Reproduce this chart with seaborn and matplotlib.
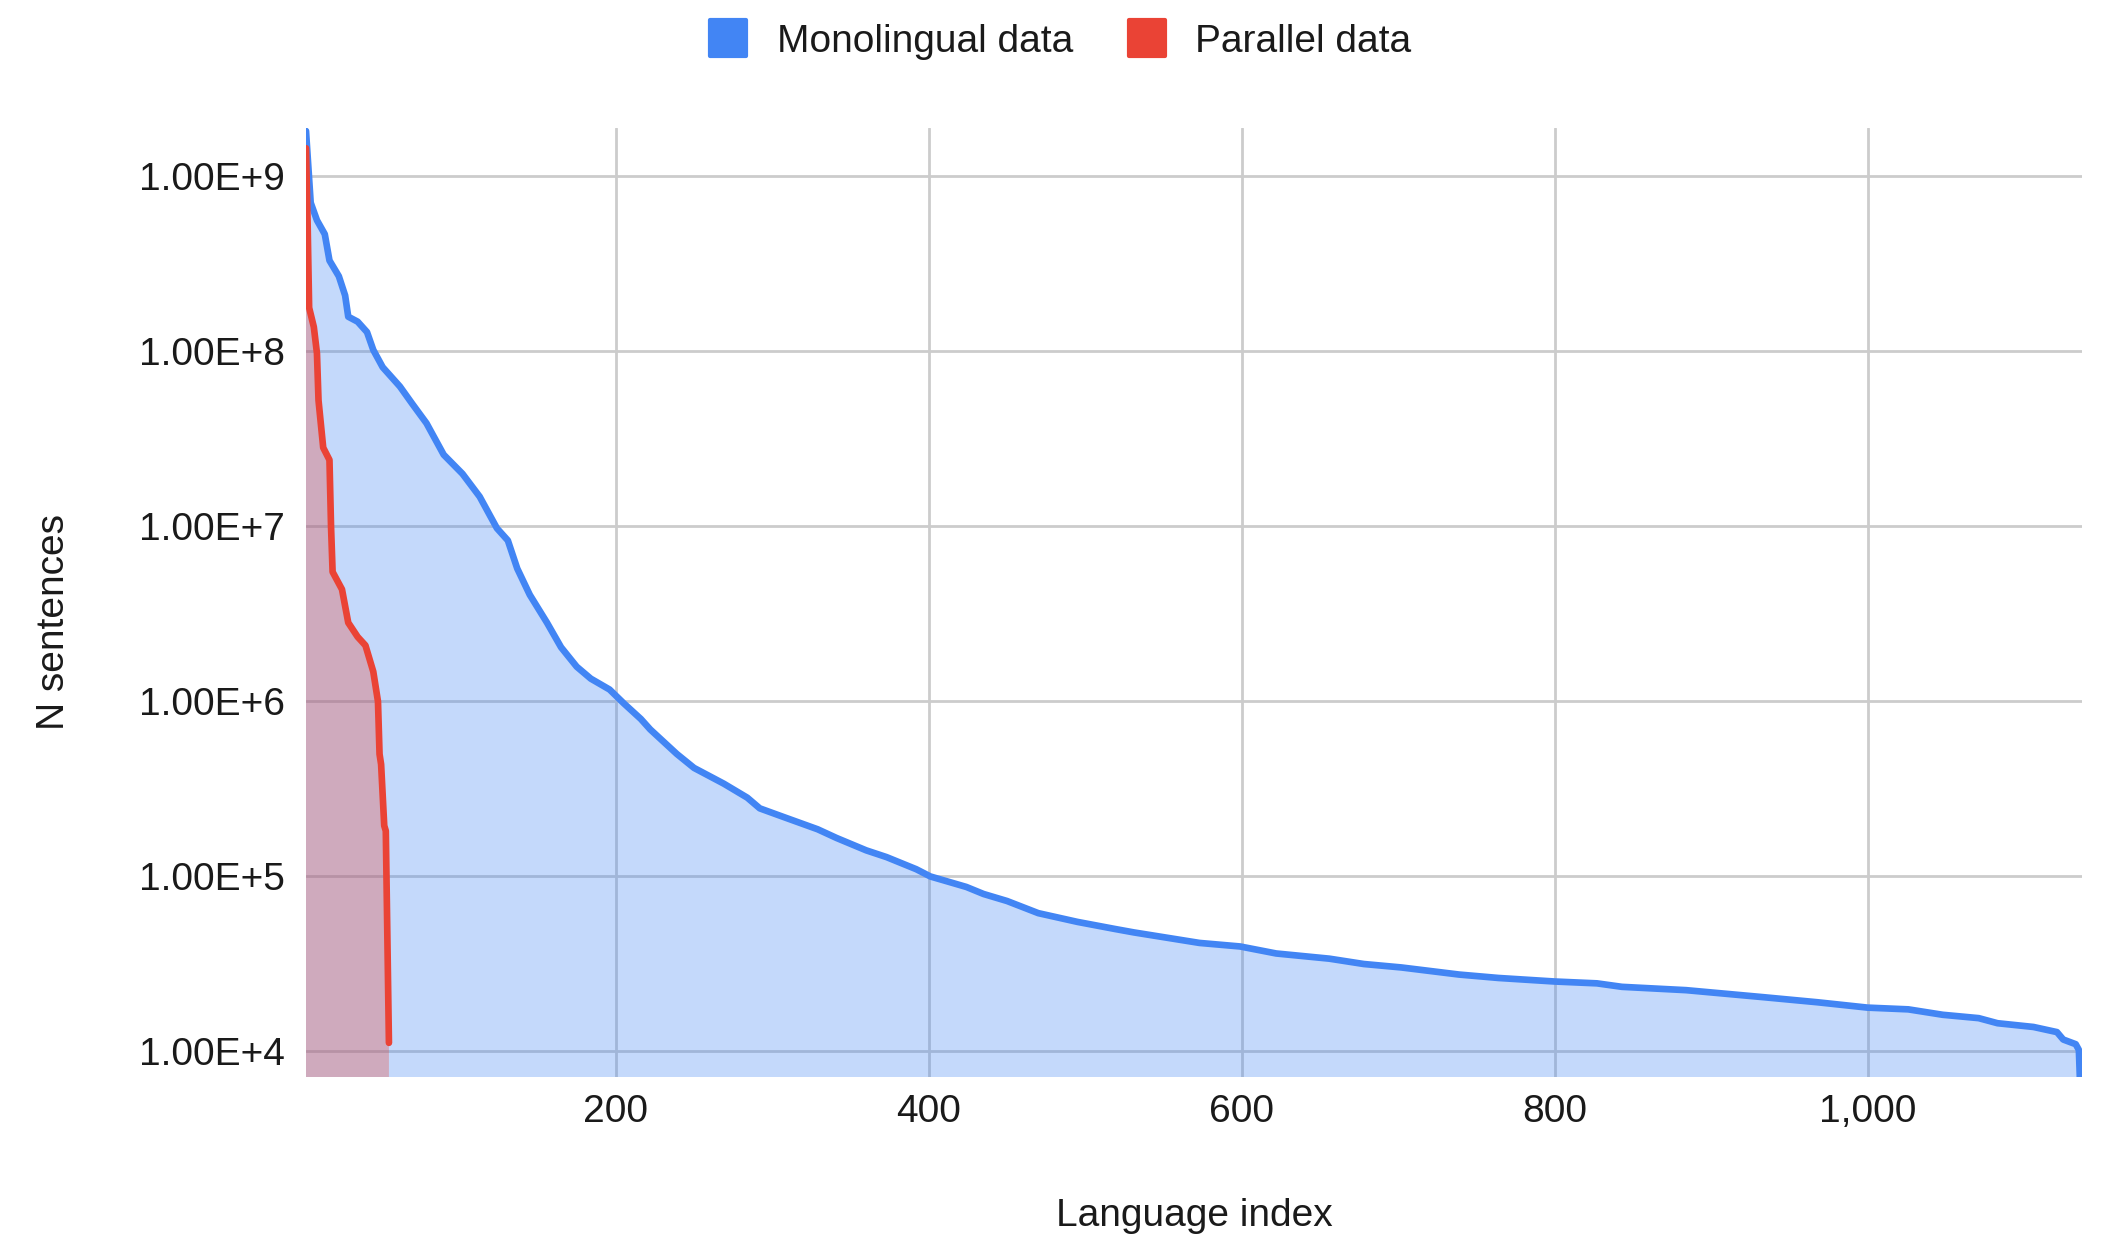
import matplotlib
matplotlib.use("Agg")
import matplotlib.pyplot as plt
from matplotlib.lines import Line2D
from matplotlib.markers import MarkerStyle
from matplotlib.ticker import FixedLocator, FixedFormatter, NullLocator
import seaborn as sns
import pandas as pd

# ---- data ----
series_names = ["Monolingual data", "Parallel data"]

mono_index = [2, 5, 9, 14, 17, 23, 27, 29, 35, 41, 45, 51, 62, 70, 79, 90, 102, 113,
              124, 131, 137, 145, 156, 165, 175, 184, 196, 205, 216, 222, 239, 250,
              269, 284, 292, 307, 329, 341, 360, 373, 392, 401, 424, 435, 450, 470,
              495, 519, 531, 573, 599, 622, 656, 678, 702, 739, 764, 800, 827, 843,
              884, 934, 968, 1000, 1026, 1048, 1071, 1083, 1106, 1121, 1125, 1133,
              1135, 1137]
mono_sentences = [1.82e9, 7.08e8, 5.62e8, 4.68e8, 3.31e8, 2.69e8, 2.09e8, 1.58e8,
                  1.48e8, 1.29e8, 1.02e8, 8.13e7, 6.31e7, 5.01e7, 3.89e7, 2.57e7,
                  2.0e7, 1.48e7, 9.77e6, 8.32e6, 5.75e6, 4.07e6, 2.82e6, 2.04e6,
                  1.58e6, 1.35e6, 1.17e6, 9.77e5, 7.94e5, 6.92e5, 5.01e5, 4.17e5,
                  3.39e5, 2.82e5, 2.45e5, 2.19e5, 1.86e5, 1.66e5, 1.41e5, 1.29e5,
                  1.10e5, 1.0e5, 8.71e4, 7.94e4, 7.24e4, 6.17e4, 5.50e4, 5.01e4,
                  4.79e4, 4.17e4, 3.98e4, 3.63e4, 3.39e4, 3.16e4, 3.02e4, 2.75e4,
                  2.63e4, 2.51e4, 2.45e4, 2.34e4, 2.24e4, 2.04e4, 1.91e4, 1.78e4,
                  1.74e4, 1.62e4, 1.55e4, 1.45e4, 1.38e4, 1.29e4, 1.17e4, 1.10e4,
                  1.02e4, 3.2e3]

para_index = [2, 3, 4, 7, 9, 10, 13, 17, 18, 19, 25, 29, 35, 40, 45, 48, 49, 50,
              52, 53, 55]
para_sentences = [1.45e9, 5.62e8, 1.78e8, 1.38e8, 9.77e7, 5.25e7, 2.82e7, 2.40e7,
                  1.0e7, 5.5e6, 4.37e6, 2.82e6, 2.34e6, 2.09e6, 1.48e6, 1.0e6,
                  5.0e5, 4.37e5, 1.95e5, 1.82e5, 1.12e4]

x_ticks = [200, 400, 600, 800, 1000]
x_tick_labels = ["200", "400", "600", "800", "1,000"]
y_ticks = [1e4, 1e5, 1e6, 1e7, 1e8, 1e9]
y_tick_labels = ["1.00E+4", "1.00E+5", "1.00E+6", "1.00E+7", "1.00E+8", "1.00E+9"]

x_label = "Language index"
y_label = "N sentences"

BLUE = "#4285F4"
RED = "#EA4335"
TEXT = "#1a1a1a"

# ---- style ----
sns.set_style("white")
plt.rcParams["font.family"] = ["Liberation Sans", "DejaVu Sans"]

W, H = 2111, 1240
fig = plt.figure(figsize=(W / 100, H / 100), dpi=100)
L, R, T, B = 306, 2082, 128, 1077
ax = fig.add_axes([L / W, 1 - B / H, (R - L) / W, (B - T) / H])
ax.set_yscale("log")

mono_df = pd.DataFrame({"index": mono_index, "sentences": mono_sentences})
para_df = pd.DataFrame({"index": para_index, "sentences": para_sentences})

ax.fill_between(mono_df["index"], mono_df["sentences"], 1, color=BLUE, alpha=0.31,
                lw=0, zorder=2)
sns.lineplot(data=mono_df, x="index", y="sentences", ax=ax, color=BLUE,
             linewidth=4.8, zorder=3, sort=False)
ax.fill_between(para_df["index"], para_df["sentences"], 1, color=RED, alpha=0.31,
                lw=0, zorder=4)
sns.lineplot(data=para_df, x="index", y="sentences", ax=ax, color=RED,
             linewidth=4.8, zorder=5, sort=False)

ax.set_xlim(2, 1137)
ax.set_ylim(10 ** 3.854, 10 ** 9.277)

ax.xaxis.set_major_locator(FixedLocator(x_ticks))
ax.xaxis.set_major_formatter(FixedFormatter(x_tick_labels))
ax.yaxis.set_major_locator(FixedLocator(y_ticks))
ax.yaxis.set_major_formatter(FixedFormatter(y_tick_labels))
ax.yaxis.set_minor_locator(NullLocator())
ax.xaxis.set_minor_locator(NullLocator())

ax.grid(True, which="major", color="#cccccc", linewidth=2.0)
ax.set_axisbelow(True)
for s in ax.spines.values():
    s.set_visible(False)

ax.tick_params(axis="x", length=0, pad=12, labelsize=28, labelcolor=TEXT)
ax.tick_params(axis="y", length=0, pad=15, labelsize=28, labelcolor=TEXT)

ax.set_xlabel(x_label, fontsize=28, color=TEXT)
ax.set_ylabel(y_label, fontsize=28, color=TEXT)
ax.xaxis.set_label_coords(0.5, -(1216 - B) / (B - T))
ax.xaxis.label.set_va("center")
ax.yaxis.set_label_coords((54 - L) / (R - L), (B - 622) / (B - T))
ax.yaxis.label.set_va("center")

handles = [
    Line2D([], [], ls="", marker=MarkerStyle("s", joinstyle="round"), markersize=26,
           markerfacecolor=c, markeredgecolor=c, markeredgewidth=3)
    for c in (BLUE, RED)
]
fig.legend(handles, series_names, loc="center",
           bbox_to_anchor=(1060 / W, 1 - 42 / H), ncol=2, frameon=False,
           fontsize=28, handlelength=1.0, handletextpad=0.75, columnspacing=1.4,
           borderpad=0, labelcolor=TEXT)

fig.savefig("out.png", dpi=100)
